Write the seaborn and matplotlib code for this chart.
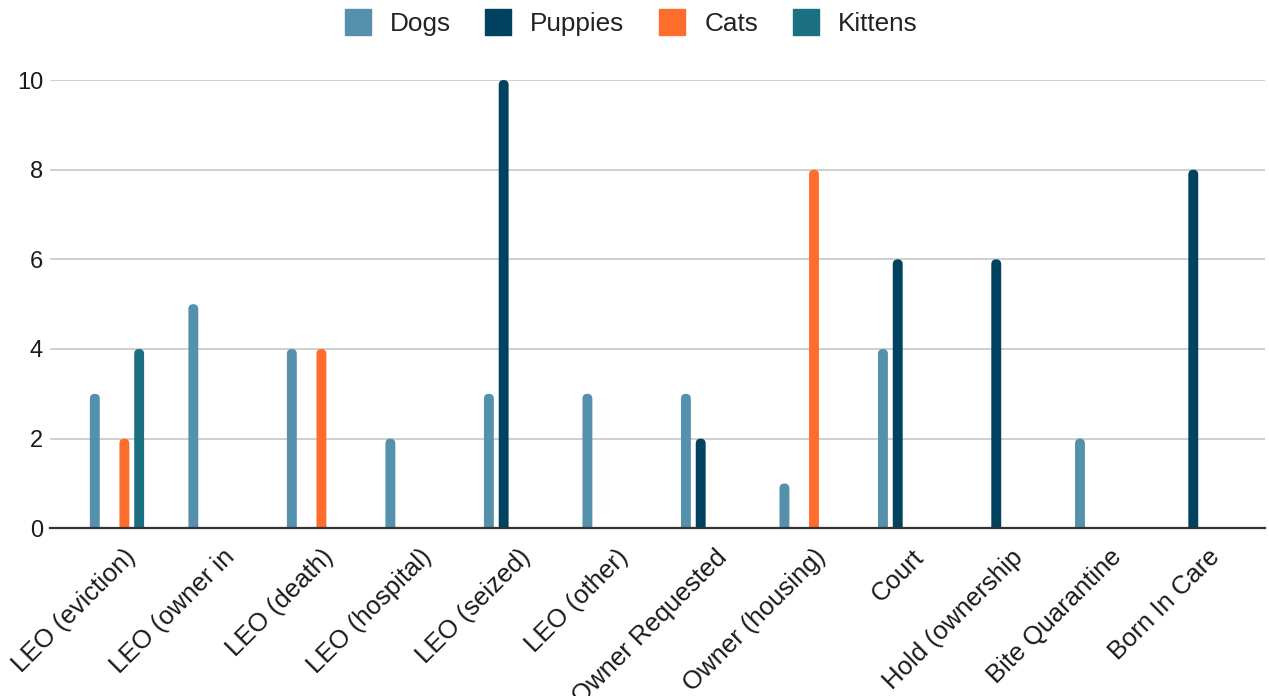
import pandas as pd
import matplotlib
matplotlib.use("Agg")
import matplotlib.pyplot as plt
import matplotlib.transforms as mtransforms
from matplotlib.patches import FancyBboxPatch
from matplotlib.lines import Line2D
import seaborn as sns

# intake reasons (labels are cut off as in the source chart)
categories = ["LEO (eviction)", "LEO (owner in", "LEO (death)", "LEO (hospital)",
              "LEO (seized)", "LEO (other)", "Owner Requested", "Owner (housing)",
              "Court", "Hold (ownership", "Bite Quarantine", "Born In Care"]
dogs = [3, 5, 4, 2, 3, 3, 3, 1, 4, 0, 2, 0]
puppies = [0, 0, 0, 0, 10, 0, 2, 0, 6, 6, 0, 8]
cats = [2, 0, 4, 0, 0, 0, 0, 8, 0, 0, 0, 0]
kittens = [4, 0, 0, 0, 0, 0, 0, 0, 0, 0, 0, 0]

series = ["Dogs", "Puppies", "Cats", "Kittens"]
colors = ["#5591ad", "#00425f", "#ff6d2c", "#1a7080"]
yticks = [0, 2, 4, 6, 8, 10]

rows = []
for name, vals in zip(series, [dogs, puppies, cats, kittens]):
    for cat, v in zip(categories, vals):
        rows.append({"reason": cat, "animal": name, "count": v})
df = pd.DataFrame(rows)

sns.set_style("white")
plt.rcParams["font.family"] = ["Liberation Sans", "DejaVu Sans"]

fig = plt.figure(figsize=(12.69, 6.96), dpi=100)
ax = fig.add_axes([0.0394, 0.241, 0.9576, 0.644])

sns.barplot(ax=ax, data=df, x="reason", y="count", hue="animal",
            hue_order=series, palette=colors, order=categories,
            width=0.6, gap=0.33, legend=False, saturation=1)

ax.set_xlim(-0.68, 11.655)
ax.set_ylim(0, 10)

# rounded tops like the original
ppx = ax.get_window_extent().width / (ax.get_xlim()[1] - ax.get_xlim()[0])
ppy = ax.get_window_extent().height / (ax.get_ylim()[1] - ax.get_ylim()[0])
aspect = ppx / ppy
for p in list(ax.patches):
    h = p.get_height()
    if h <= 0:
        p.remove()
        continue
    x, w = p.get_x(), p.get_width()
    r = w / 2
    ext = r * aspect
    fb = FancyBboxPatch((x, -ext), w, h + ext,
                        boxstyle=f"round,pad=0,rounding_size={r}",
                        mutation_aspect=aspect, facecolor=p.get_facecolor(),
                        edgecolor="none", linewidth=0)
    p.remove()
    ax.add_patch(fb)

ax.set_yticks(yticks)
ax.yaxis.grid(True, color="#cccccc", linewidth=1.3)
ax.set_axisbelow(True)
for s in ["top", "right", "left"]:
    ax.spines[s].set_visible(False)
ax.spines["bottom"].set_color("#333333")
ax.spines["bottom"].set_linewidth(1.6)
ax.spines["bottom"].set_zorder(5)

ax.set_xlabel("")
ax.set_ylabel("")
ax.tick_params(axis="y", length=0, pad=5, labelsize=17, labelcolor="#1a1a1a")
ax.tick_params(axis="x", length=0, pad=0, labelsize=18.5, labelcolor="#1a1a1a")
offset = mtransforms.ScaledTranslation(5 / 72, -12 / 72, fig.dpi_scale_trans)
for lab in ax.get_xticklabels():
    lab.set_rotation(45)
    lab.set_ha("right")
    lab.set_va("top")
    lab.set_rotation_mode("anchor")
    lab.set_transform(lab.get_transform() + offset)

handles = [Line2D([], [], marker="s", linestyle="none", markersize=19,
                  markerfacecolor=c, markeredgecolor=c) for c in colors]
fig.legend(handles, series, loc="upper center", bbox_to_anchor=(0.497, 1.016),
           ncol=4, frameon=False, fontsize=18.8, handlelength=1.05,
           handletextpad=0.7, columnspacing=1.3, labelcolor="#222222")

fig.savefig("out.png", dpi=100)
